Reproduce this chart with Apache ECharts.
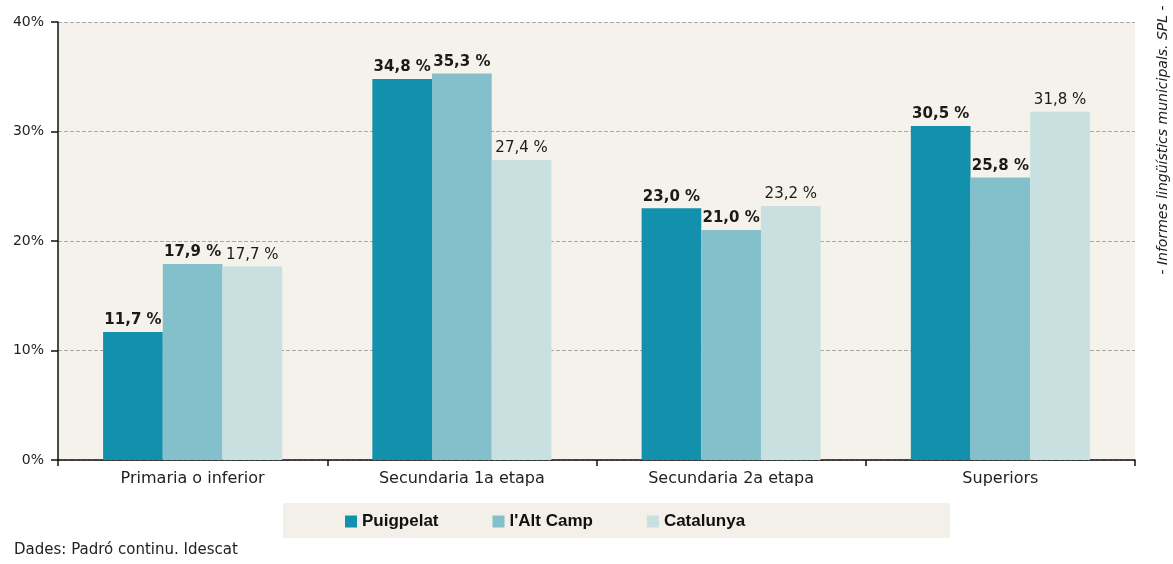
<!DOCTYPE html>
<html>
<head>
<meta charset="utf-8">
<script src="https://cdn.jsdelivr.net/npm/echarts@6/dist/echarts.min.js"></script>
<style>
  html, body { margin: 0; padding: 0; background: #fff; }
  #chart { width: 1173px; height: 564px; }
</style>
</head>
<body>
<div id="chart"></div>
<script>
const categories = ['Primaria o inferior', 'Secundaria 1a etapa', 'Secundaria 2a etapa', 'Superiors']
const puigpelat = [11.7, 34.8, 23.0, 30.5]
const altCamp = [17.9, 35.3, 21.0, 25.8]
const catalunya = [17.7, 27.4, 23.2, 31.8]
const yTicks = [0, 10, 20, 30, 40]

const FONT = 'DejaVu Sans'
const fmt = (p) => p.value.toFixed(1).replace('.', ',') + ' %'

const chart = echarts.init(document.getElementById('chart'))

// one bar series, the label weight differs between the three
function barSeries (name, data, color, bold) {
  return {
    name: name,
    type: 'bar',
    data: data,
    barGap: '0%',
    barCategoryGap: '33.5%',
    itemStyle: { color: color },
    label: {
      show: true,
      position: 'top',
      distance: 4,
      formatter: fmt,
      fontFamily: FONT,
      fontSize: 15,
      fontWeight: bold ? 'bold' : 'normal',
      color: '#1a1a1a'
    }
  }
}

chart.setOption({
  backgroundColor: '#ffffff',
  animation: false,
  textStyle: { fontFamily: FONT },
  grid: {
    left: 58,
    right: 38,
    top: 22,
    bottom: 104,
    show: true,
    backgroundColor: '#f5f1eb',
    borderWidth: 0
  },
  legend: {
    left: 340,
    top: 508,
    icon: 'rect',
    itemWidth: 12,
    itemHeight: 12,
    itemGap: 54,
    textStyle: { fontFamily: 'Liberation Sans', fontSize: 17, fontWeight: 'bold', color: '#111' },
    data: ['Puigpelat', "l'Alt Camp", 'Catalunya']
  },
  graphic: [
    {
      type: 'rect',
      z: -1,
      shape: { x: 283, y: 503, width: 667, height: 35 },
      style: { fill: '#f3efe9' }
    },
    {
      type: 'text',
      left: 14,
      top: 543,
      style: { text: 'Dades: Padró continu. Idescat', fontFamily: FONT, fontSize: 15, fill: '#222' }
    },
    {
      type: 'text',
      x: 1163,
      y: 140,
      rotation: Math.PI / 2,
      style: {
        text: '- Informes lingüístics municipals. SPL -',
        fontFamily: FONT,
        fontSize: 14,
        fontStyle: 'italic',
        fill: '#222',
        align: 'center',
        verticalAlign: 'middle'
      }
    }
  ],
  xAxis: {
    type: 'category',
    data: categories,
    axisLine: { lineStyle: { color: '#111', width: 1.5 } },
    axisTick: { show: true, length: 6, lineStyle: { color: '#111', width: 1.5 } },
    axisLabel: { fontFamily: FONT, fontSize: 16, color: '#222', margin: 11 }
  },
  yAxis: {
    type: 'value',
    min: yTicks[0],
    max: yTicks[yTicks.length - 1],
    interval: 10,
    axisLine: { show: true, lineStyle: { color: '#111', width: 1.5 } },
    axisTick: { show: true, length: 7, lineStyle: { color: '#111', width: 1.5 } },
    axisLabel: { formatter: '{value}%', fontFamily: FONT, fontSize: 14, color: '#222', margin: 14 },
    splitLine: { show: true, lineStyle: { color: '#a8a8a8', type: 'dashed', width: 1 } }
  },
  series: [
    barSeries('Puigpelat', puigpelat, '#1390ab', true),
    barSeries("l'Alt Camp", altCamp, '#84c0cb', true),
    barSeries('Catalunya', catalunya, '#c8e0e0', false)
  ]
})
</script>
</body>
</html>
